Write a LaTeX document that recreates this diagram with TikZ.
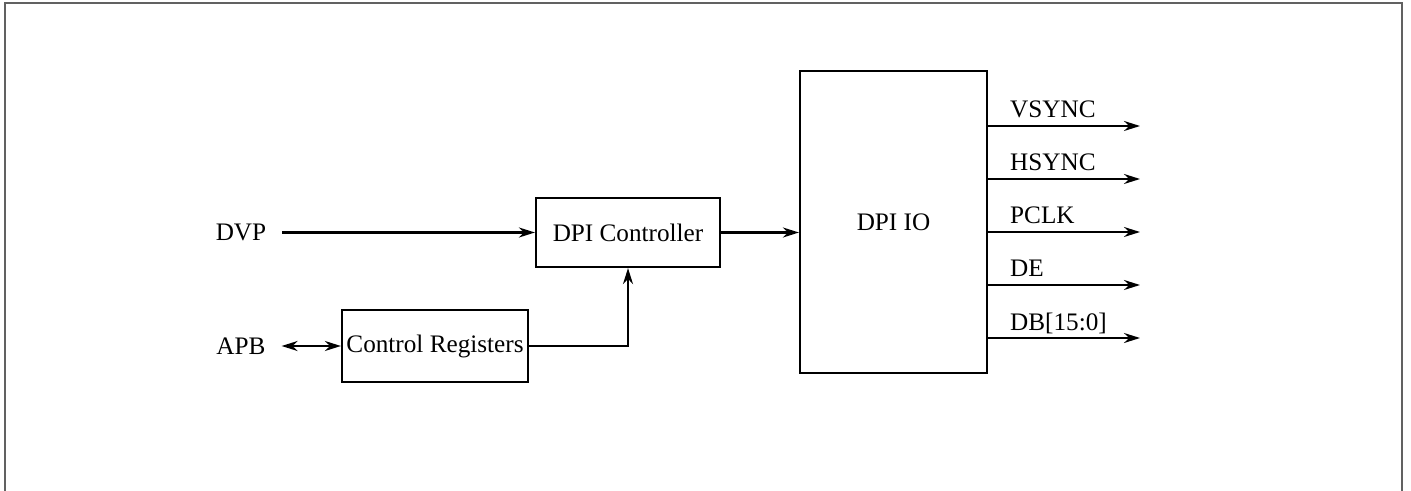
\documentclass[tikz,border=0pt]{standalone}
\usepackage{fontspec}
\setmainfont{Liberation Serif}
\usetikzlibrary{arrows.meta}

\begin{document}
\begin{tikzpicture}[x=0.5pt,y=-0.5pt,line width=1.1pt,font=\fontsize{12.6}{15}\selectfont,
  blk/.style={draw,inner sep=0pt},
  sig/.style={inner sep=7.5pt},
  arr/.style={-{Stealth[length=8pt,width=5pt]}},
  lbl/.style={pos=0,anchor=base west,inner sep=0pt,xshift=10.5pt,yshift=4pt}]
  \useasboundingbox (0,0) rectangle (1411,491);
  \draw[black!62,line width=0.8pt] (5,491) -- (5,3) -- (1402,3) -- (1402,491);
  \node[sig] (dvp) at (241,232.5) {DVP};
  \node[sig] (apb) at (241,346) {APB};
  \node[blk,minimum width=92pt,minimum height=34.5pt] (ctrl) at (628,232.5) {DPI Controller};
  \node[blk,minimum width=93pt,minimum height=36pt] (regs) at (435,346) {Control Registers};
  \node[blk,minimum width=93.5pt,minimum height=151pt] (dpiio) at (893.5,222) {DPI IO};
  \coordinate (vsync) at (1140,126);
  \coordinate (hsync) at (1140,179);
  \coordinate (pclk) at (1140,232);
  \coordinate (de) at (1140,285);
  \coordinate (db) at (1140,338);
  \draw[arr] (dvp) -- (ctrl);
  \draw[arr] (ctrl) -- (dpiio.west |- ctrl);
  \draw[{Stealth[length=8pt,width=5pt]}-{Stealth[length=8pt,width=5pt]}] (apb) -- (regs);
  \draw[arr] (regs.east) -| (ctrl.south);
  \draw[arr] (dpiio.east |- vsync) -- (vsync) node[lbl] {VSYNC};
  \draw[arr] (dpiio.east |- hsync) -- (hsync) node[lbl] {HSYNC};
  \draw[arr] (dpiio.east |- pclk) -- (pclk) node[lbl] {PCLK};
  \draw[arr] (dpiio.east |- de) -- (de) node[lbl] {DE};
  \draw[arr] (dpiio.east |- db) -- (db) node[lbl] {DB[15:0]};
\end{tikzpicture}
\end{document}
